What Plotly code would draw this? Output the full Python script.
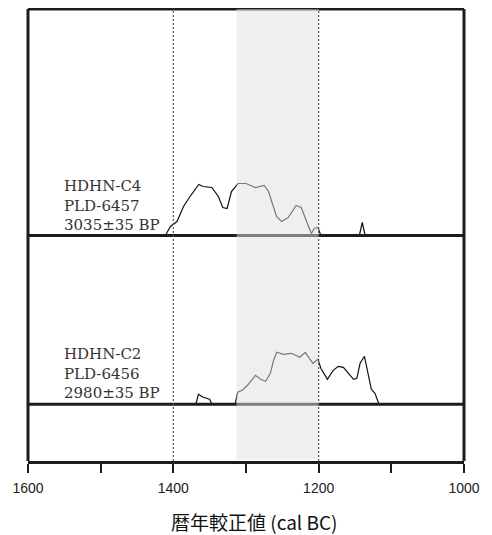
import plotly.graph_objects as go

# ---- data ----
c4_years = [1411, 1404, 1395, 1386, 1377, 1365, 1359, 1347, 1338, 1332, 1326, 1320, 1311,
            1300, 1287, 1275, 1269, 1258, 1251, 1242, 1231, 1224, 1215, 1210, 1206, 1201, 1197]
c4_prob = [0, 9, 14, 29, 39, 51, 49, 48, 39, 28, 27, 44, 52,
           52, 48, 50, 44, 19, 14, 18, 30, 28, 11, 2, 7, 8, 0]
c4_spike_years = [1144, 1140, 1136]
c4_spike_prob = [0, 13, 0]

c2_years = [1315, 1311.5, 1305, 1298, 1287, 1280, 1273, 1266.5, 1262, 1257.5, 1248.5, 1237.5,
            1226, 1218.5, 1208, 1201, 1197, 1188, 1180, 1173, 1166, 1159, 1152, 1147.5,
            1143, 1137, 1132, 1127.5, 1122.5, 1117]
c2_prob = [0, 12, 14, 19, 29, 25, 23, 31, 44, 52, 50, 51,
           47, 52, 41, 45, 36, 25, 34, 38, 37, 31, 25, 26,
           41, 48, 31, 15, 11, 0]
c2_bump_years = [1369, 1365.5, 1359, 1350, 1347]
c2_bump_prob = [0, 10, 7, 5, 0]

labels_c4 = ["HDHN-C4", "PLD-6457", "3035±35 BP"]
labels_c2 = ["HDHN-C2", "PLD-6456", "2980±35 BP"]

tick_vals = [1600, 1500, 1400, 1300, 1200, 1100, 1000]
tick_text = ["1600", "", "1400", "", "1200", "", "1000"]
ref_lines = [1400, 1200]
band = [1313, 1200]
x_title = "暦年較正値 (cal BC)"

# ---- layout constants ----
BASE_C4 = 225.5
BASE_C2 = 56.7
YMAX = 452
DARK = "#1c1c1c"

fig = go.Figure()

def add_curve(xs, ps, base):
    fig.add_trace(go.Scatter(x=xs, y=[base + p for p in ps], mode="lines",
                             line=dict(color="#111111", width=1.2),
                             showlegend=False, hoverinfo="skip"))

add_curve(c4_years, c4_prob, BASE_C4)
add_curve(c4_spike_years, c4_spike_prob, BASE_C4)
add_curve(c2_years, c2_prob, BASE_C2)
add_curve(c2_bump_years, c2_bump_prob, BASE_C2)

shapes = []
# baselines
for b in (BASE_C4, BASE_C2):
    shapes.append(dict(type="line", xref="paper", yref="y", x0=0, x1=1, y0=b, y1=b,
                       line=dict(color=DARK, width=3), layer="above"))
# frame (top, left, right)
shapes.append(dict(type="line", xref="paper", yref="paper", x0=0, x1=1, y0=1, y1=1,
                   line=dict(color=DARK, width=3), layer="above"))
for xx in (0, 1):
    shapes.append(dict(type="line", xref="paper", yref="paper", x0=xx, x1=xx, y0=0, y1=1,
                       line=dict(color=DARK, width=3), layer="above"))
# shaded band overlay
shapes.append(dict(type="rect", xref="x", yref="y", x0=band[0], x1=band[1],
                   y0=1.6, y1=YMAX + 2, fillcolor="rgba(223,223,223,0.5)",
                   line=dict(width=0), layer="above"))
# dotted reference lines
for r in ref_lines:
    shapes.append(dict(type="line", xref="x", yref="y", x0=r, x1=r, y0=0, y1=YMAX,
                       line=dict(color="#555555", width=1.2, dash="2px,2px"), layer="above"))

annotations = []
for lab, base in ((labels_c4, BASE_C4), (labels_c2, BASE_C2)):
    annotations.append(dict(x=1553, y=base + 30.5, xref="x", yref="y",
                            text="<br>".join(lab), showarrow=False,
                            xanchor="left", yanchor="middle", align="left",
                            font=dict(family="DejaVu Serif", size=15, color="#333333")))
annotations.append(dict(x=0.52, y=-0.1345, xref="paper", yref="paper", text=x_title,
                        showarrow=False, xanchor="center", yanchor="middle", borderpad=0,
                        font=dict(family="Noto Sans CJK JP", size=19, color="#111111")))

# page body has an 8px default margin: figure is sized so the plot lands where the reference has it
fig.update_layout(
    width=484, height=527,
    margin=dict(l=20, r=28, t=1, b=74),
    paper_bgcolor="white", plot_bgcolor="white",
    shapes=shapes, annotations=annotations,
    xaxis=dict(range=[1600, 1000], tickmode="array", tickvals=tick_vals, ticktext=tick_text,
               showgrid=False, zeroline=False, showline=True, linecolor=DARK, linewidth=3,
               ticks="outside", ticklen=9, tickwidth=2, tickcolor=DARK, ticklabelstandoff=3,
               tickfont=dict(family="Liberation Sans", size=14, color="#222222")),
    yaxis=dict(range=[0, YMAX], showgrid=False, zeroline=False, showticklabels=False,
               showline=False, ticks=""),
)

fig.write_html("out.html")
